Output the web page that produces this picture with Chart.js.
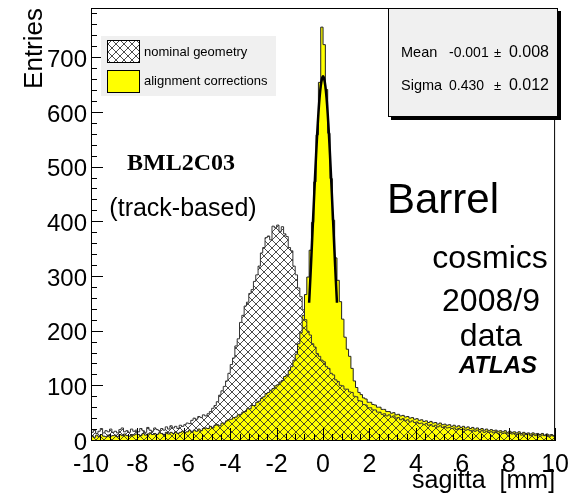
<!DOCTYPE html>
<html>
<head>
<meta charset="utf-8">
<script src="https://cdn.jsdelivr.net/npm/chart.js@4.4.0/dist/chart.umd.min.js"></script>
<style>
html,body{margin:0;padding:0;background:#fff;}
#wrap{width:579px;height:498px;}
</style>
</head>
<body>
<div id="wrap"><canvas id="c" width="579" height="498"></canvas></div>
<script>
// ---- data ----
const xLimits = [-10, 10];          // sagitta range [mm]
const binWidth = 0.1;               // histogram bin width [mm]
const yLimits = [0, 790];           // Entries axis range
const xTickStep = 2;
const yTickValues = [0, 100, 200, 300, 400, 500, 600, 700];
const yTickLabels = ['0', '100', '200', '300', '400', '500', '600', '700'];

// nominal geometry histogram, 200 bins from -10 to 10 mm
const nominalGeometry = [
  14, 19, 12, 16, 21, 13, 17, 15, 20, 14,
  16, 13, 19, 22, 15, 17, 14, 20, 16, 18,
  15, 21, 17, 14, 23, 18, 16, 22, 19, 17,
  21, 18, 24, 20, 26, 22, 25, 21, 27, 25,
  28, 31, 30, 36, 40, 38, 43, 41, 46, 44,
  48, 52, 58, 63, 70, 82, 90, 98, 108, 122,
  138, 150, 172, 185, 215, 228, 245, 252, 268, 275,
  290, 302, 318, 342, 352, 370, 373, 366, 391, 388,
  393, 381, 390, 377, 372, 352, 346, 318, 302, 278,
  262, 238, 220, 199, 192, 176, 170, 158, 153, 146,
  143, 134, 131, 122, 119, 110, 107, 100, 99, 93,
  93, 88, 87, 80, 79, 72, 71, 65, 64, 59,
  59, 55, 55, 51, 51, 47, 48, 44, 46, 42,
  44, 40, 41, 37, 39, 35, 37, 33, 35, 32,
  33, 30, 31, 28, 30, 27, 28, 25, 27, 24,
  26, 23, 25, 22, 23, 21, 22, 19, 21, 19,
  20, 18, 19, 17, 18, 16, 18, 15, 17, 14,
  16, 14, 15, 13, 15, 12, 14, 12, 13, 11,
  13, 11, 12, 10, 12, 9, 11, 10, 11, 8,
  10, 8, 10, 7, 9, 8, 9, 6, 8, 7
];

// alignment corrections histogram, 200 bins from -10 to 10 mm
const alignmentCorrections = [
  8, 5, 9, 6, 10, 7, 6, 9, 7, 8,
  9, 6, 10, 8, 11, 8, 7, 10, 9, 11,
  10, 8, 12, 9, 11, 13, 10, 12, 10, 13,
  12, 10, 14, 11, 14, 12, 15, 12, 14, 16,
  14, 15, 18, 14, 18, 16, 20, 17, 21, 22,
  21, 25, 22, 27, 28, 26, 31, 31, 35, 37,
  38, 41, 42, 46, 47, 51, 52, 57, 57, 63,
  63, 69, 71, 76, 79, 85, 87, 91, 94, 99,
  101, 106, 109, 116, 119, 127, 134, 146, 157, 176,
  196, 228, 266, 298, 347, 398, 472, 558, 654, 755,
  723, 641, 561, 478, 402, 333, 292, 253, 221, 188,
  166, 153, 131, 108, 96, 87, 83, 77, 75, 69,
  69, 65, 64, 60, 60, 56, 56, 52, 52, 49,
  50, 46, 47, 44, 45, 42, 43, 40, 41, 38,
  39, 36, 37, 34, 35, 32, 34, 31, 32, 29,
  31, 28, 29, 27, 28, 25, 27, 24, 26, 23,
  25, 22, 24, 21, 23, 20, 22, 19, 21, 18,
  20, 17, 19, 17, 18, 16, 17, 15, 17, 14,
  16, 14, 15, 13, 15, 12, 14, 12, 13, 11,
  13, 11, 12, 10, 12, 9, 11, 9, 10, 8
];

// fitted curve drawn over the core of the alignment-corrected peak
const fitX = [-0.6, -0.55, -0.5, -0.45, -0.4, -0.35, -0.3, -0.25, -0.2, -0.15, -0.1, -0.05, 0,
              0.05, 0.1, 0.15, 0.2, 0.25, 0.3, 0.35, 0.4, 0.45, 0.5, 0.55, 0.6];
const fitY = [251, 293, 338, 385, 431, 477, 521, 562, 597, 626, 647, 660, 665,
              660, 647, 626, 597, 562, 521, 477, 431, 385, 338, 293, 251];

const seriesNames = ['nominal geometry', 'alignment corrections'];
const statNames = ['Mean', 'Sigma'];
const statValues = ['-0.001', '0.430'];
const statErrors = ['0.008', '0.012'];
const xTitle = 'sagitta  [mm]';
const yTitle = 'Entries';
const notes = ['BML2C03', '(track-based)', 'Barrel', 'cosmics', '2008/9', 'data', 'ATLAS'];

// ---- helpers ----
function histPoints(values) {
  const pts = [{x: xLimits[0], y: 0}];
  values.forEach((v, i) => pts.push({x: +(xLimits[0] + i * binWidth).toFixed(3), y: v}));
  pts.push({x: xLimits[1], y: values[values.length - 1]});
  pts.push({x: xLimits[1], y: 0});
  return pts;
}

const ctx = document.getElementById('c').getContext('2d');

function makeHatch(context) {
  const s = 8;
  const c = document.createElement('canvas');
  c.width = s; c.height = s;
  const g = c.getContext('2d');
  g.strokeStyle = '#2a2a2a';
  g.lineWidth = 0.85;
  g.beginPath();
  for (let k = -1; k <= 1; k++) {
    g.moveTo(-2, -2 + k * s); g.lineTo(s + 2, s + 2 + k * s);
    g.moveTo(-2, s + 2 + k * s); g.lineTo(s + 2, -2 + k * s);
  }
  g.stroke();
  return context.createPattern(c, 'repeat');
}
const hatch = makeHatch(ctx);
const yellow = '#ffff00';
const SANS = "'Liberation Sans', Arial, Helvetica, sans-serif";
const SERIF = "'Liberation Serif', 'Times New Roman', serif";

Chart.defaults.font.family = SANS;
Chart.defaults.color = '#000';

const rootStyle = {
  id: 'rootStyle',
  afterDatasetsDraw(chart) {
    const {ctx, chartArea: a, scales: {x, y}} = chart;
    ctx.save();
    // axis lines + frame
    ctx.strokeStyle = '#000';
    ctx.lineWidth = 1;
    ctx.beginPath();
    ctx.moveTo(a.left + 0.5, a.top); ctx.lineTo(a.left + 0.5, a.bottom + 0.5);
    ctx.lineTo(a.right - 0.5, a.bottom + 0.5);
    ctx.lineTo(a.right - 0.5, a.top + 0.5);
    ctx.lineTo(a.left + 0.5, a.top + 0.5);
    ctx.stroke();
    // inward ticks
    ctx.beginPath();
    for (let v = yLimits[0]; v <= yLimits[1]; v += 20) {
      const p = Math.round(y.getPixelForValue(v)) + 0.5;
      const len = (v % 100 === 0) ? 12 : 6;
      ctx.moveTo(a.left, p); ctx.lineTo(a.left + len, p);
    }
    for (let k = 0; k <= 50; k++) {
      const v = xLimits[0] + k * 0.4;
      const p = Math.round(x.getPixelForValue(v)) + 0.5;
      const len = (k % 5 === 0) ? 12 : 6;
      ctx.moveTo(p, a.bottom); ctx.lineTo(p, a.bottom - len);
    }
    ctx.stroke();

    // y tick labels
    ctx.fillStyle = '#000';
    ctx.font = '24px ' + SANS;
    ctx.textAlign = 'right';
    ctx.textBaseline = 'middle';
    yTickValues.forEach((v, i) => {
      ctx.fillText(yTickLabels[i], a.left - 4, y.getPixelForValue(v) + 3);
    });

    // legend box
    ctx.fillStyle = '#f0f0f0';
    ctx.fillRect(101, 36, 175, 60);
    ctx.fillStyle = '#fff';
    ctx.fillRect(107, 40, 32, 22);
    ctx.fillStyle = hatch;
    ctx.fillRect(107, 40, 32, 22);
    ctx.strokeStyle = '#000';
    ctx.strokeRect(107.5, 40.5, 32, 22);
    ctx.fillStyle = yellow;
    ctx.fillRect(107, 70, 32, 22);
    ctx.strokeRect(107.5, 70.5, 32, 22);
    ctx.fillStyle = '#000';
    ctx.font = '13px ' + SANS;
    ctx.textAlign = 'left';
    ctx.textBaseline = 'middle';
    ctx.fillText(seriesNames[0], 144, 52);
    ctx.fillText(seriesNames[1], 144, 81);

    // stats box
    ctx.fillStyle = '#000';
    ctx.fillRect(391, 11, 170, 109);
    ctx.fillStyle = '#f0f0f0';
    ctx.fillRect(388, 8, 170, 109);
    ctx.strokeStyle = '#000';
    ctx.strokeRect(388.5, 8.5, 169, 108);
    ctx.fillStyle = '#000';
    ctx.textBaseline = 'middle';
    [53, 86].forEach((yy, i) => {
      ctx.font = '14.5px ' + SANS;
      ctx.textAlign = 'left';
      ctx.fillText(statNames[i], 401, yy);
      ctx.font = '14px ' + SANS;
      ctx.fillText(statValues[i], 449, yy);
      ctx.font = '13px ' + SANS;
      ctx.fillText('\u00b1', 494, yy);
      ctx.font = '16px ' + SANS;
      ctx.textAlign = 'right';
      ctx.fillText(statErrors[i], 549, yy);
    });

    // annotations
    ctx.textAlign = 'center';
    ctx.textBaseline = 'alphabetic';
    ctx.font = 'bold 24px ' + SERIF;
    ctx.fillText(notes[0], 181, 170);
    ctx.font = '25px ' + SANS;
    ctx.fillText(notes[1], 183, 216);
    ctx.font = '42px ' + SANS;
    ctx.fillText(notes[2], 443, 213);
    ctx.font = '32px ' + SANS;
    ctx.fillText(notes[3], 490, 268);
    ctx.fillText(notes[4], 491, 311);
    ctx.fillText(notes[5], 491, 346);
    ctx.font = 'italic bold 24px ' + SANS;
    ctx.fillText(notes[6], 498, 373);
    ctx.restore();
  }
};

new Chart(ctx, {
  type: 'line',
  data: {
    datasets: [
      {
        label: 'fit',
        data: fitX.map((v, i) => ({x: v, y: fitY[i]})),
        borderColor: '#000',
        borderWidth: 2.5,
        pointRadius: 0,
        fill: false,
        tension: 0.3
      },
      {
        label: seriesNames[0],
        data: histPoints(nominalGeometry),
        stepped: 'before',
        borderColor: '#333',
        borderWidth: 1,
        backgroundColor: hatch,
        fill: 'origin',
        pointRadius: 0
      },
      {
        label: seriesNames[1],
        data: histPoints(alignmentCorrections),
        stepped: 'before',
        borderColor: '#222',
        borderWidth: 1,
        backgroundColor: yellow,
        fill: 'origin',
        pointRadius: 0
      }
    ]
  },
  options: {
    responsive: false,
    animation: false,
    devicePixelRatio: 1,
    layout: {padding: {top: 8, right: 22, left: 0, bottom: 0}},
    plugins: {legend: {display: false}, tooltip: {enabled: false}},
    scales: {
      x: {
        type: 'linear',
        min: xLimits[0], max: xLimits[1],
        ticks: {stepSize: xTickStep, font: {size: 25}, color: '#000', padding: 10,
                maxRotation: 0, autoSkip: false},
        grid: {display: false, drawTicks: false},
        border: {display: true, color: '#000'},
        title: {display: true, text: xTitle, align: 'end', color: '#000',
                font: {size: 25}, padding: {top: 0, bottom: 2}},
        afterFit(s) { s.height = 58; }
      },
      y: {
        type: 'linear',
        min: yLimits[0], max: yLimits[1],
        ticks: {display: false},
        grid: {display: false, drawTicks: false},
        border: {display: true, color: '#000'},
        title: {display: true, text: yTitle, align: 'end', color: '#000',
                font: {size: 26}, padding: {top: 19, bottom: 0}},
        afterFit(s) { s.width = 91; }
      }
    }
  },
  plugins: [rootStyle]
});
</script>
</body>
</html>
